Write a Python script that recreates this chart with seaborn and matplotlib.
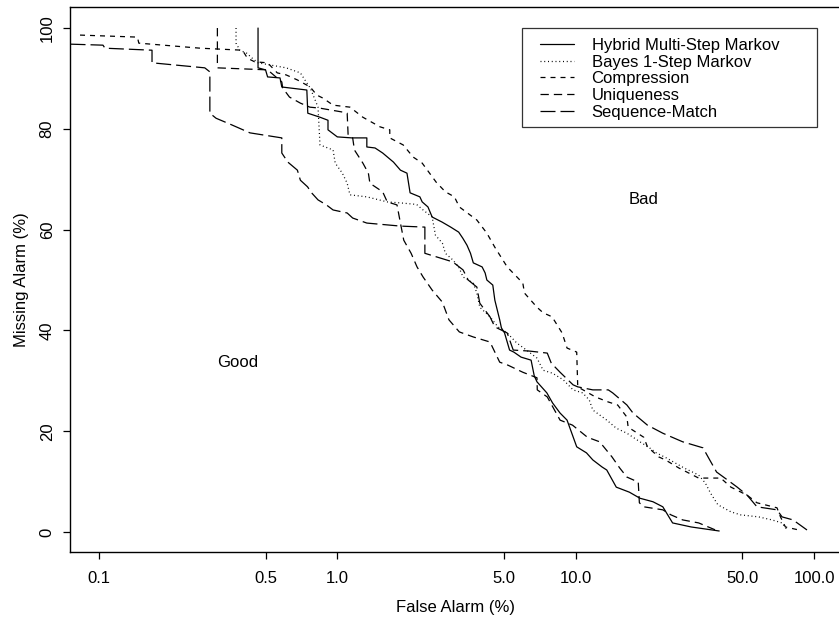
import numpy as np
import pandas as pd
import matplotlib
matplotlib.use("Agg")
import matplotlib.pyplot as plt
from matplotlib.patches import Rectangle
import seaborn as sns

# DET curves, false alarm (%) vs missing alarm (%)
hybrid_x = [0.465, 0.465, 0.50, 0.51, 0.575, 0.585, 0.745, 0.752, 0.846, 0.914, 0.914, 1.0, 1.15, 1.33, 1.33,
            1.44, 1.55, 1.72, 1.84, 1.96, 2.02, 2.22, 2.27, 2.40, 2.50, 2.75, 2.99, 3.23, 3.36, 3.50, 3.62, 3.72,
            4.05, 4.17, 4.24, 4.49, 4.58, 4.80, 4.88, 5.03, 5.28, 5.5, 5.9, 6.5, 6.7, 6.88, 7.57, 8.0, 8.6, 9.2,
            10.1, 11.1, 11.8, 12.9, 13.5, 14.8, 16.8, 18.6, 21.1, 23.2, 25.5, 30.5, 40.0]
hybrid_y = [100, 92.1, 91.7, 90.3, 90.1, 88.3, 87.7, 83.1, 82.3, 81.7, 79.8, 78.4, 78.2, 78.2, 76.4, 76.2, 75.2,
            73.4, 71.8, 71.2, 67.3, 66.5, 65.5, 64.5, 62.5, 61.5, 60.5, 59.5, 58.3, 56.9, 55.3, 53.4, 52.6, 51.4,
            50.0, 49.0, 46.0, 42.1, 40.5, 39.5, 36.1, 35.7, 34.7, 34.1, 31.0, 29.8, 27.6, 25.6, 23.6, 22.2, 16.9,
            15.7, 14.3, 12.9, 12.3, 8.9, 7.9, 6.7, 6.0, 5.0, 1.8, 1.0, 0.2]

bayes_x = [0.376, 0.376, 0.39, 0.417, 0.44, 0.465, 0.61, 0.70, 0.745, 0.77, 0.83, 0.846, 0.96, 0.98, 1.05, 1.10,
           1.13, 1.33, 1.62, 1.84, 2.15, 2.29, 2.50, 2.58, 2.76, 2.84, 3.05, 3.23, 3.37, 3.72, 3.85, 3.96, 4.37,
           4.72, 5.16, 5.66, 6.22, 6.88, 7.3, 8.0, 8.87, 9.75, 10.7, 11.4, 11.8, 13.5, 14.8, 16.4, 18.6, 20.4,
           21.8, 24.0, 28.5, 32.8, 35.0, 36.8, 39.5, 44.8, 49.2, 58.5, 66.6, 73.4, 77.2]
bayes_y = [100, 97.0, 95.6, 95.0, 94.0, 93.1, 92.1, 91.1, 89.1, 88.1, 84.3, 76.8, 75.8, 73.2, 71.2, 69.2, 66.9,
           66.5, 65.5, 65.3, 65.0, 63.9, 62.5, 58.9, 57.3, 55.3, 54.0, 52.6, 50.6, 49.4, 47.4, 44.6, 42.7, 40.7,
           39.5, 37.5, 36.1, 34.5, 32.1, 31.5, 30.2, 28.2, 27.6, 26.2, 24.2, 22.2, 20.6, 19.6, 17.9, 16.7, 15.7,
           14.7, 12.7, 11.3, 9.7, 7.7, 5.4, 4.0, 3.4, 3.0, 2.4, 1.8, 0.4]

compression_x = [0.0833, 0.145, 0.147, 0.266, 0.40, 0.42, 0.45, 0.51, 0.56, 0.61, 0.68, 0.77, 0.82, 0.87, 0.96,
                 1.13, 1.28, 1.51, 1.66, 1.66, 1.89, 2.08, 2.27, 2.6, 2.84, 3.1, 3.25, 3.85, 4.24, 4.58, 5.16,
                 6.0, 6.1, 6.88, 7.3, 7.96, 8.77, 9.2, 10.1, 10.2, 12.1, 13.7, 15.0, 16.4, 16.6, 19.3, 20.0,
                 22.3, 23.8, 27.1, 32.8, 40.6, 44.8, 52.4, 57.6, 69.9, 72.3, 75.8, 86.3]
compression_y = [98.6, 98.2, 97.0, 96.0, 95.6, 94.0, 93.3, 93.1, 91.1, 90.7, 89.7, 88.3, 86.7, 86.1, 84.7,
                 84.3, 82.3, 80.4, 79.8, 78.2, 76.8, 74.4, 73.2, 69.4, 67.5, 66.5, 64.5, 61.9, 59.3, 56.5, 52.6,
                 49.4, 47.4, 44.6, 43.5, 42.7, 39.5, 36.5, 35.7, 28.8, 26.8, 25.8, 25.2, 22.8, 20.8, 18.8, 16.9,
                 14.9, 14.3, 12.7, 10.7, 10.7, 8.9, 7.3, 5.8, 4.8, 3.0, 1.0, 0.4]

uniq_x = [0.314, 0.314, 0.51, 0.585, 0.59, 0.63, 0.70, 0.767, 0.846, 1.06, 1.10, 1.11, 1.16, 1.18, 1.28, 1.35,
          1.37, 1.55, 1.62, 1.78, 1.84, 1.90, 2.04, 2.16, 2.29, 2.50, 2.76, 2.94, 3.25, 3.72, 4.37, 4.8, 5.2,
          6.0, 6.88, 6.9, 7.6, 8.6, 9.7, 11.2, 12.6, 14.2, 15.3, 16.4, 18.3, 18.5, 19.3, 23.2, 25.1, 28.1,
          32.8, 39.5]
uniq_y = [100, 92.1, 91.7, 89.3, 88.1, 86.3, 85.1, 84.3, 84.1, 83.3, 83.1, 78.8, 78.2, 75.8, 73.2, 71.2, 69.2,
          67.5, 65.5, 64.9, 61.3, 57.9, 55.3, 52.6, 50.6, 48.0, 45.6, 42.1, 39.7, 38.7, 37.7, 33.7, 33.1, 31.7,
          30.6, 28.2, 26.8, 22.2, 21.2, 18.8, 17.9, 14.9, 12.7, 10.9, 9.9, 5.8, 5.0, 4.4, 3.4, 2.4, 1.8, 0.2]

seq_x = [0.076, 0.104, 0.106, 0.167, 0.167, 0.278, 0.292, 0.292, 0.31, 0.36, 0.43, 0.585, 0.585, 0.62, 0.68,
         0.70, 0.75, 0.78, 0.83, 0.90, 0.96, 1.10, 1.16, 1.33, 1.84, 2.33, 2.33, 3.05, 3.37, 3.54, 3.85, 3.96,
         4.37, 4.58, 5.16, 5.47, 6.4, 7.6, 7.9, 8.6, 9.75, 10.2, 11.8, 13.7, 14.3, 16.4, 17.4, 20.0, 23.2,
         28.1, 34.2, 36.5, 39.0, 43.4, 47.6, 52.4, 57.6, 69.9, 73.4, 81.6, 93.4]
seq_y = [96.8, 96.6, 96.0, 95.6, 93.1, 92.1, 91.3, 83.1, 82.1, 80.8, 79.2, 78.2, 75.2, 73.4, 71.8, 69.8, 68.5,
         67.3, 65.9, 64.9, 63.9, 63.3, 62.3, 61.3, 60.7, 60.5, 55.3, 53.6, 52.0, 50.0, 48.6, 45.4, 42.7, 40.7,
         39.5, 36.1, 35.9, 35.5, 33.5, 31.7, 29.2, 28.8, 28.2, 28.2, 27.6, 25.2, 23.6, 21.2, 19.6, 17.9, 16.7,
         14.3, 11.9, 10.3, 8.9, 7.3, 5.0, 4.4, 3.0, 2.4, 0.4]

series_names = ["Hybrid Multi-Step Markov", "Bayes 1-Step Markov", "Compression", "Uniqueness", "Sequence-Match"]
x_ticks = [0.1, 0.5, 1.0, 5.0, 10.0, 50.0, 100.0]
x_tick_labels = ["0.1", "0.5", "1.0", "5.0", "10.0", "50.0", "100.0"]
y_ticks = [0, 20, 40, 60, 80, 100]
region_labels = [("Bad", 19.3, 65.9), ("Good", 0.383, 33.7)]

sns.set_style("ticks")
plt.rcParams["font.family"] = ["Liberation Sans", "DejaVu Sans"]
plt.rcParams["lines.scale_dashes"] = False
for key in ["text.color", "axes.labelcolor", "xtick.color", "ytick.color", "axes.edgecolor"]:
    plt.rcParams[key] = "black"

fs = 12

fig = plt.figure(figsize=(8.39, 6.21), dpi=100)
ax = fig.add_axes([0.0834, 0.1111, 0.9201, 0.8776])

styles = ["-", (0, (0.7, 2.0)), (0, (3.6, 3.6)), (0, (6.0, 3.6)), (0, (10.8, 3.6))]
xs = [hybrid_x, bayes_x, compression_x, uniq_x, seq_x]
ys = [hybrid_y, bayes_y, compression_y, uniq_y, seq_y]

for name, x, y, ls in zip(series_names, xs, ys, styles):
    df = pd.DataFrame({"fa": x, "miss": y})
    sns.lineplot(data=df, x="fa", y="miss", sort=False, estimator=None, color="black",
                 linewidth=0.9, linestyle=ls, label=name, ax=ax)

ax.set_xscale("log")
ax.set_xlim(0.0756, 130.9)
ax.set_ylim(-3.97, 104.17)
ax.set_xticks(x_ticks)
ax.set_xticklabels(x_tick_labels)
ax.minorticks_off()
ax.set_yticks(y_ticks)
ax.set_yticklabels([str(v) for v in y_ticks])
ax.tick_params(axis="both", labelsize=fs, length=5, width=0.9, direction="out")
ax.tick_params(axis="x", pad=9)
ax.tick_params(axis="y", labelrotation=90, pad=6)
for lab in ax.get_yticklabels():
    lab.set_va("center")
for sp in ax.spines.values():
    sp.set_linewidth(1.0)

ax.set_xlabel("False Alarm (%)", fontsize=fs, labelpad=10)
ax.set_ylabel("Missing Alarm (%)", fontsize=fs, labelpad=8)

for txt, tx, ty in region_labels:
    ax.text(tx, ty, txt, ha="center", va="center", fontsize=fs)

leg = ax.legend(loc="upper left", bbox_to_anchor=(0.6088, 0.9432), frameon=False, fontsize=fs,
                handlelength=2.05, handletextpad=1.05, labelspacing=0.1, borderpad=0.0, borderaxespad=0.0)
ax.add_patch(Rectangle((0.5855, 0.7798), 0.3821, 0.1817, transform=ax.transAxes, fill=False,
                       edgecolor="#333333", linewidth=0.9, zorder=5))

fig.savefig("out.png", dpi=100)
